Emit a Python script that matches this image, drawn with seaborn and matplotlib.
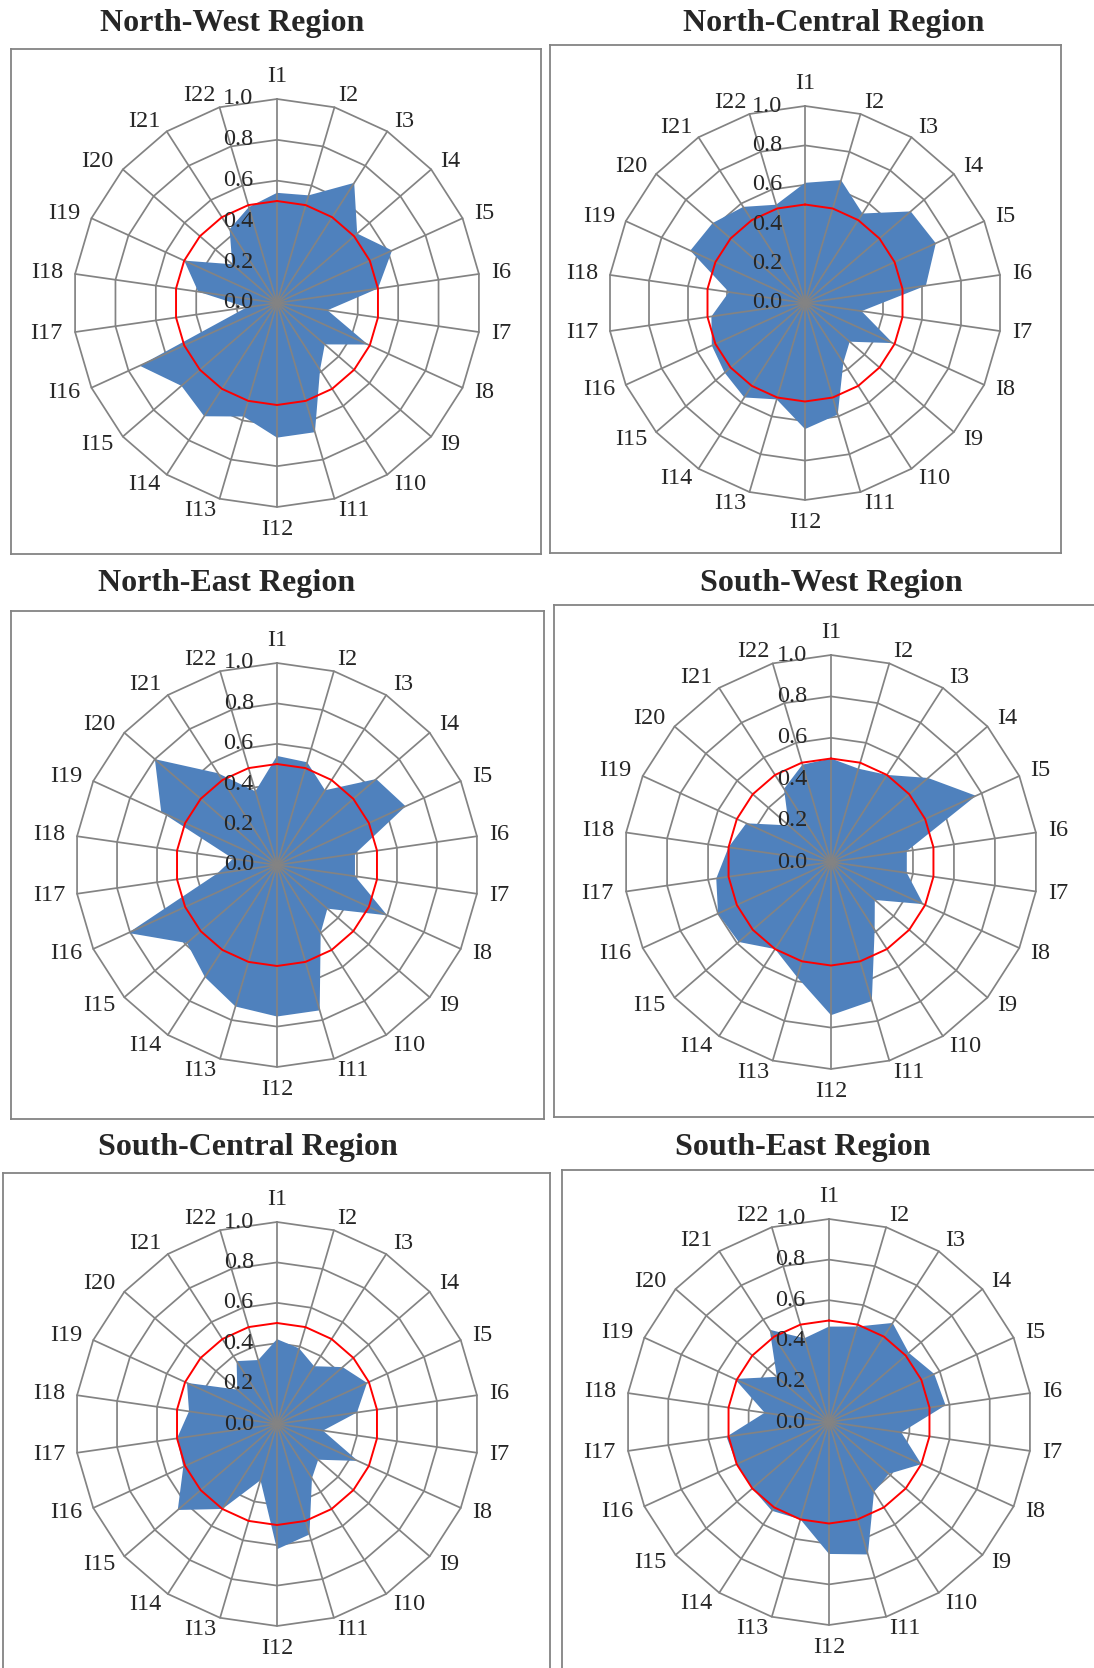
import numpy as np
import matplotlib
matplotlib.use("Agg")
import matplotlib.pyplot as plt
import seaborn as sns

# indicator names and per-region scores
indicators = [f"I{i}" for i in range(1, 23)]
rings = [0.0, 0.2, 0.4, 0.6, 0.8, 1.0]
threshold = 0.5

north_west = [0.54, 0.55, 0.70, 0.52, 0.62, 0.50, 0.25, 0.49, 0.31, 0.39, 0.66,
              0.66, 0.58, 0.66, 0.62, 0.74, 0.15, 0.39, 0.50, 0.29, 0.43, 0.49]
north_central = [0.61, 0.65, 0.54, 0.71, 0.73, 0.62, 0.29, 0.49, 0.30, 0.36, 0.59,
                 0.64, 0.51, 0.57, 0.54, 0.52, 0.48, 0.39, 0.64, 0.62, 0.58, 0.52]
north_east = [0.54, 0.53, 0.44, 0.65, 0.70, 0.39, 0.39, 0.60, 0.33, 0.40, 0.75,
              0.75, 0.73, 0.66, 0.59, 0.81, 0.30, 0.22, 0.63, 0.80, 0.54, 0.38]
south_west = [0.50, 0.47, 0.50, 0.62, 0.77, 0.37, 0.37, 0.49, 0.28, 0.39, 0.70,
              0.74, 0.58, 0.50, 0.59, 0.60, 0.56, 0.50, 0.45, 0.27, 0.42, 0.49]
south_central = [0.42, 0.39, 0.34, 0.43, 0.49, 0.40, 0.23, 0.44, 0.27, 0.32, 0.57,
                 0.62, 0.29, 0.50, 0.65, 0.51, 0.50, 0.44, 0.49, 0.26, 0.37, 0.33]
south_east = [0.47, 0.49, 0.58, 0.52, 0.57, 0.58, 0.36, 0.50, 0.39, 0.41, 0.68,
              0.65, 0.50, 0.52, 0.50, 0.50, 0.51, 0.32, 0.51, 0.34, 0.54, 0.43]

titles = ["North-West Region", "North-Central Region", "North-East Region",
          "South-West Region", "South-Central Region", "South-East Region"]
series = [north_west, north_central, north_east, south_west, south_central, south_east]

# layout in pixels: box (x0, y0, x1, y1), centre (cx, cy), radius, title position
W, H = 1094, 1668
boxes = [(11, 49, 541, 554), (550, 45, 1061, 553), (11, 611, 544, 1119),
         (554, 605, 1100, 1117), (3, 1173, 550, 1680), (562, 1170, 1100, 1680)]
centres = [(277, 303, 204), (805, 303, 197), (277, 865, 202),
           (831, 862, 207), (277, 1424, 202), (829, 1422, 203)]
title_pos = [(232, 23), (834, 23), (227, 583), (831, 583), (248, 1147), (803, 1147)]

GRID = "#838383"
BLUE = "#4F81BD"

sns.set_style("white")
plt.rcParams["font.family"] = ["Liberation Serif", "DejaVu Serif"]

fig = plt.figure(figsize=(W / 100, H / 100), dpi=100)

n = len(indicators)
theta = np.arange(n) * 2 * np.pi / n
sx, cy_ = np.sin(theta), np.cos(theta)


def closed(a):
    return np.append(a, a[0])


for title, vals, box, (cx, cy, R), (tx, ty) in zip(titles, series, boxes, centres, title_pos):
    x0, y0, x1, y1 = box
    ax = fig.add_axes([x0 / W, 1 - y1 / H, (x1 - x0) / W, (y1 - y0) / H])
    ax.set_xlim((x0 - cx) / R, (x1 - cx) / R)
    ax.set_ylim((cy - y1) / R, (cy - y0) / R)
    ax.set_xticks([])
    ax.set_yticks([])
    for sp in ax.spines.values():
        sp.set_color(GRID)
        sp.set_linewidth(1.3)

    # polygon rings
    for r in rings[1:]:
        ax.plot(closed(r * sx), closed(r * cy_), color=GRID, lw=1.25, zorder=1)

    # data area
    v = np.array(vals)
    ax.fill(v * sx, v * cy_, color=BLUE, lw=0, zorder=2)

    # spokes
    for s, c in zip(sx, cy_):
        ax.plot([0, s], [0, c], color=GRID, lw=1.25, zorder=3)

    # threshold line
    sns.lineplot(x=closed(threshold * sx), y=closed(threshold * cy_), sort=False,
                 estimator=None, color="red", lw=1.4, zorder=4, ax=ax)

    # category labels
    for lab, s, c in zip(indicators, sx, cy_):
        ha = "left" if s > 0.05 else ("right" if s < -0.05 else "center")
        va = "bottom" if c > 0.99 else ("top" if c < -0.99 else "center")
        ax.text(1.06 * s, 1.06 * c, lab, ha=ha, va=va, fontsize=17.5, zorder=5)

    # radial tick labels
    for r in rings:
        ax.text(-0.115, r, f"{r:.1f}", ha="right", va="center", fontsize=17.5, zorder=5)

    fig.text(tx / W, 1 - ty / H, title, ha="center", va="center",
             fontsize=23, fontweight="bold")

fig.savefig("out.png", dpi=100)
